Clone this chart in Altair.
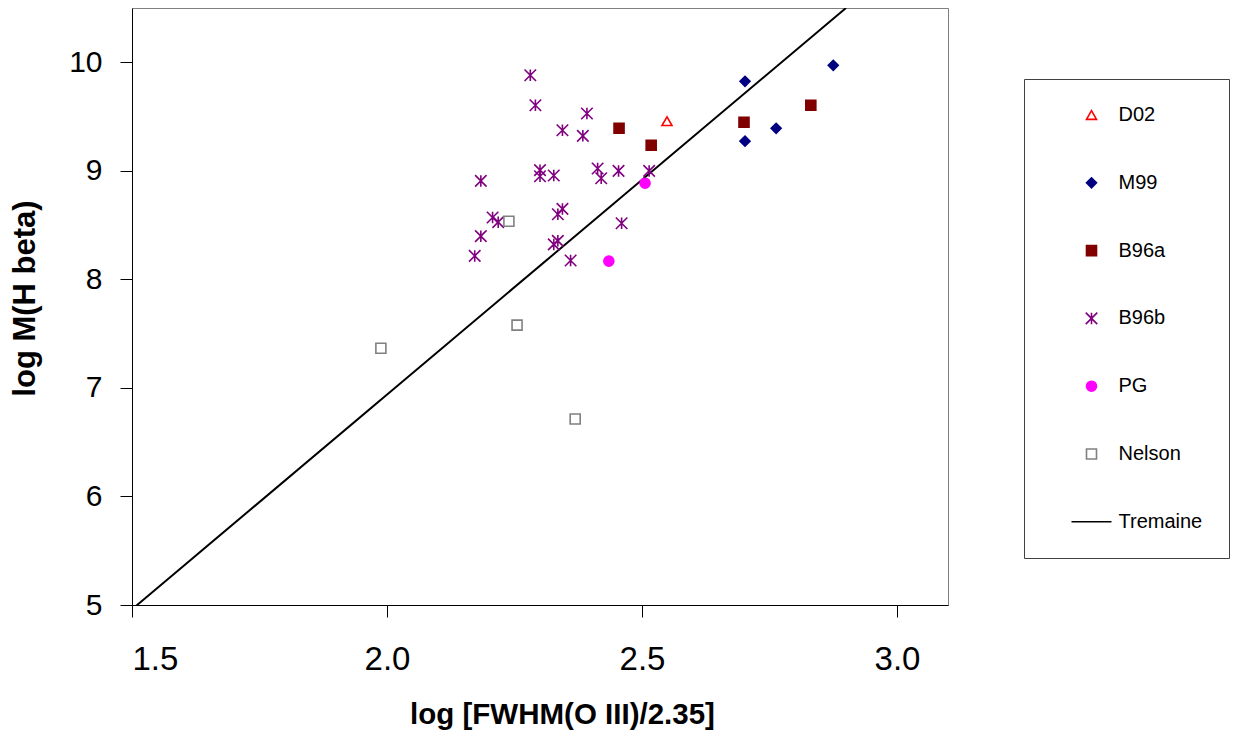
import altair as alt
import pandas as pd

series_order = ["D02", "M99", "B96a", "B96b", "PG", "Nelson", "Tremaine"]

d02_x = [2.549]
d02_y = [9.457]

m99_x = [2.702, 2.702, 2.763, 2.875]
m99_y = [9.825, 9.273, 9.392, 9.972]

b96a_x = [2.455, 2.518, 2.700, 2.831]
b96a_y = [9.392, 9.236, 9.448, 9.604]

b96b_x = [2.281, 2.291, 2.392, 2.344, 2.384, 2.300, 2.300, 2.327, 2.413, 2.420,
          2.454, 2.514, 2.184, 2.344, 2.335, 2.460, 2.207, 2.218, 2.184, 2.335,
          2.327, 2.172, 2.360]
b96b_y = [9.880, 9.604, 9.528, 9.374, 9.322, 9.006, 8.950, 8.957, 9.021, 8.932,
          8.999, 8.999, 8.907, 8.649, 8.600, 8.517, 8.570, 8.527, 8.398, 8.355,
          8.322, 8.216, 8.174]

pg_x = [2.506, 2.435]
pg_y = [8.886, 8.168]

nelson_x = [1.988, 2.239, 2.255, 2.369]
nelson_y = [7.366, 8.536, 7.578, 6.713]

tremaine_x = [1.5, 2.9]
tremaine_y = [4.96, 10.5]

x_ticks = [1.5, 2.0, 2.5, 3.0]
y_ticks = [5, 6, 7, 8, 9, 10]

rows = []
for name, xs, ys in [("D02", d02_x, d02_y), ("M99", m99_x, m99_y),
                     ("B96a", b96a_x, b96a_y), ("B96b", b96b_x, b96b_y),
                     ("PG", pg_x, pg_y), ("Nelson", nelson_x, nelson_y)]:
    for xv, yv in zip(xs, ys):
        rows.append({"x": xv, "y": yv, "series": name})
points_df = pd.DataFrame(rows)
line_df = pd.DataFrame({"x": tremaine_x, "y": tremaine_y})

shape_range = ["triangle-up", "diamond", "square",
               "M-1.15,-1.15L1.15,1.15M-1.15,1.15L1.15,-1.15M0,-1.15L0,1.15",
               "circle", "square", "M-4,0L4,0"]
fill_range = ["#FFFFFF", "#000080", "#800000", "transparent", "#FF00FF",
              "#FFFFFF", "transparent"]
stroke_range = ["#FF0000", "#000080", "#800000", "#800080", "#FF00FF",
                "#808080", "#000000"]

FONT = "Liberation Sans"

legend = alt.Legend(
    title=None, orient="none", legendX=892, legendY=71,
    padding=26, symbolOffset=31.5, labelOffset=17, rowPadding=47.8,
    labelFontSize=20, labelFont=FONT, labelColor="#000000",
    strokeColor="#404040", fillColor="#FFFFFF",
    symbolSize=100, symbolStrokeWidth=1.6,
)

xscale = alt.Scale(domain=[1.5, 3.1], nice=False, zero=False)
yscale = alt.Scale(domain=[5, 10.5], nice=False, zero=False)

xaxis = alt.Axis(values=x_ticks, format=".1f", title="log  [FWHM(O  III)/2.35]",
                 labelFontSize=33, labelPadding=26, tickSize=12, titleX=430,
                 titleFontSize=29.5, titlePadding=24)
yaxis = alt.Axis(values=y_ticks, format="d", title="log M(H beta)",
                 labelFontSize=30, labelPadding=18, tickSize=12, titleY=290,
                 titleFontSize=31, titlePadding=27)

line = alt.Chart(line_df).mark_line(color="#000000", strokeWidth=2, clip=True).encode(
    x=alt.X("x:Q", scale=xscale, axis=xaxis),
    y=alt.Y("y:Q", scale=yscale, axis=yaxis),
)

pts = alt.Chart(points_df).mark_point(filled=True, size=100, strokeWidth=1.6, opacity=1).encode(
    x=alt.X("x:Q", scale=xscale, axis=xaxis),
    y=alt.Y("y:Q", scale=yscale, axis=yaxis),
    shape=alt.Shape("series:N", scale=alt.Scale(domain=series_order, range=shape_range), legend=legend),
    fill=alt.Fill("series:N", scale=alt.Scale(domain=series_order, range=fill_range), legend=legend),
    stroke=alt.Stroke("series:N", scale=alt.Scale(domain=series_order, range=stroke_range), legend=legend),
)

chart = alt.layer(line, pts).properties(
    width=816, height=597,
    autosize=alt.AutoSizeParams(type="none"),
    padding={"left": 124, "top": 0, "right": 301, "bottom": 132},
).configure_view(
    stroke="#808080", strokeWidth=1
).configure_axis(
    grid=False, domainColor="#000000", tickColor="#000000", domainWidth=1,
    tickWidth=1, labelFont=FONT, titleFont=FONT, labelColor="#000000",
    titleColor="#000000", titleFontWeight="bold"
)

chart.save("out.html", embed_options={"renderer": "svg", "actions": False})
